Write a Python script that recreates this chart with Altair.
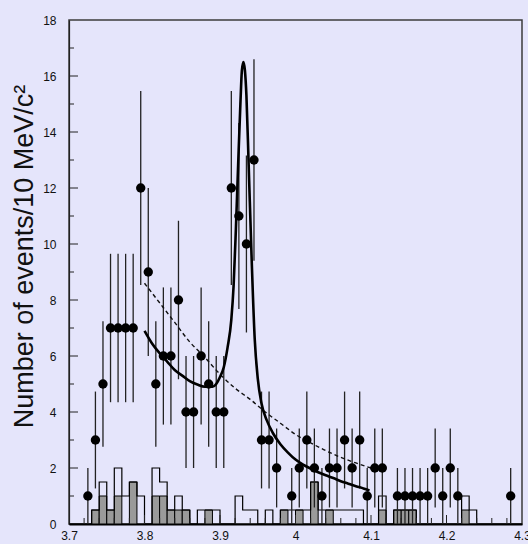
import altair as alt
import pandas as pd

# ---------------- data ----------------
pt_x = [3.725, 3.735, 3.745, 3.755, 3.765, 3.775, 3.785, 3.795, 3.805, 3.815,
        3.825, 3.835, 3.845, 3.855, 3.865, 3.875, 3.885, 3.895, 3.905, 3.915,
        3.925, 3.935, 3.945, 3.955, 3.965, 3.975, 3.995, 4.005, 4.015, 4.025,
        4.035, 4.045, 4.055, 4.065, 4.075, 4.085, 4.095, 4.105, 4.115, 4.135,
        4.145, 4.155, 4.165, 4.175, 4.185, 4.195, 4.205, 4.215, 4.285]
pt_y = [1, 3, 5, 7, 7, 7, 7, 12, 9, 5,
        6, 6, 8, 4, 4, 6, 5, 4, 4, 12,
        11, 10, 13, 3, 3, 2, 1, 2, 3, 2,
        1, 2, 2, 3, 2, 3, 1, 2, 2, 1,
        1, 1, 1, 1, 2, 1, 2, 1, 1]
pt_err = [1.0, 1.73, 2.24, 2.65, 2.65, 2.65, 2.65, 3.46, 3.0, 2.24,
          2.45, 2.45, 2.83, 2.0, 2.0, 2.45, 2.24, 2.0, 2.0, 3.46,
          3.32, 3.16, 3.6, 1.73, 1.73, 1.41, 1.0, 1.41, 1.73, 1.41,
          1.0, 1.41, 1.41, 1.73, 1.41, 1.73, 1.0, 1.41, 1.41, 1.0,
          1.0, 1.0, 1.0, 1.0, 1.41, 1.0, 1.41, 1.0, 1.0]

fit_x = [3.800, 3.810, 3.820, 3.830, 3.840, 3.850, 3.860, 3.870, 3.880, 3.890,
         3.895, 3.900, 3.905, 3.910, 3.915, 3.918, 3.921, 3.924, 3.927, 3.929,
         3.931, 3.933, 3.935, 3.938, 3.942, 3.946, 3.950, 3.955, 3.962, 3.970,
         3.980, 3.990, 4.000, 4.010, 4.020, 4.030, 4.040, 4.050, 4.060, 4.070,
         4.080, 4.090, 4.098]
fit_y = [6.9, 6.45, 6.1, 5.8, 5.5, 5.3, 5.1, 4.98, 4.9, 4.9,
         5.0, 5.25, 5.6, 6.3, 7.3, 8.5, 10.5, 12.8, 15.0, 16.2,
         16.5, 16.2, 15.3, 12.8, 9.4, 6.6, 5.2, 4.3, 3.7, 3.25,
         2.85, 2.55, 2.3, 2.12, 1.98, 1.85, 1.74, 1.64, 1.53, 1.44,
         1.35, 1.27, 1.2]

bkg_x = [3.80, 3.82, 3.84, 3.86, 3.88, 3.90, 3.92, 3.94, 3.96, 3.98,
         4.00, 4.02, 4.04, 4.06, 4.08, 4.10]
bkg_y = [8.6, 7.9, 7.2, 6.5, 5.95, 5.35, 4.85, 4.45, 4.0, 3.6,
         3.2, 2.9, 2.62, 2.38, 2.18, 2.0]

# open histogram: left bin edges 3.70 ... 4.29 (10 MeV bins), last edge 4.30
hist_edge = [3.70, 3.71, 3.72, 3.73, 3.74, 3.75, 3.76, 3.77, 3.78, 3.79,
             3.80, 3.81, 3.82, 3.83, 3.84, 3.85, 3.86, 3.87, 3.88, 3.89,
             3.90, 3.91, 3.92, 3.93, 3.94, 3.95, 3.96, 3.97, 3.98, 3.99,
             4.00, 4.01, 4.02, 4.03, 4.04, 4.05, 4.06, 4.07, 4.08, 4.09,
             4.10, 4.11, 4.12, 4.13, 4.14, 4.15, 4.16, 4.17, 4.18, 4.19,
             4.20, 4.21, 4.22, 4.23, 4.24, 4.25, 4.26, 4.27, 4.28, 4.29, 4.30]
open_h = [0, 0, 0, 0.5, 1.5, 0.5, 2.0, 1.0, 1.5, 1.0,
          0, 2.0, 1.5, 0.5, 1.0, 0.5, 0, 0.5, 0.5, 0.5,
          0, 0, 1.0, 0.5, 0.5, 0, 0.5, 0, 0.5, 0.5,
          0.5, 0.5, 1.5, 0.5, 0.5, 0.5, 0.5, 0.5, 0.5, 0,
          0, 1.0, 0, 0.5, 0.5, 0.5, 0, 0, 0, 0,
          0, 0, 1.0, 0.5, 0, 0, 0, 0, 0, 0, 0]

grey_lo = [3.73, 3.74, 3.75, 3.76, 3.78, 3.81, 3.82, 3.83, 3.84, 3.85,
           3.88, 3.98, 4.00, 4.02, 4.04, 4.11, 4.13, 4.14, 4.15, 4.22]
grey_hi = [3.74, 3.75, 3.76, 3.77, 3.79, 3.82, 3.83, 3.84, 3.85, 3.86,
           3.89, 3.99, 4.01, 4.03, 4.05, 4.12, 4.14, 4.15, 4.16, 4.23]
grey_h = [0.5, 1.0, 0.5, 1.0, 1.5, 1.0, 1.0, 0.5, 0.5, 0.5,
          0.5, 0.5, 0.5, 1.5, 0.5, 0.5, 0.5, 0.5, 0.5, 0.5]

x_labels = [3.7, 3.8, 3.9, 4.0, 4.1, 4.2, 4.3]
x_minor = [3.72, 3.74, 3.76, 3.78, 3.82, 3.84, 3.86, 3.88, 3.92, 3.94, 3.96,
           3.98, 4.02, 4.04, 4.06, 4.08, 4.12, 4.14, 4.16, 4.18, 4.22, 4.24,
           4.26, 4.28]
x_major = [3.8, 3.9, 4.0, 4.1, 4.2]
y_labels = [0, 2, 4, 6, 8, 10, 12, 14, 16, 18]
y_major = [2, 4, 6, 8, 10, 12, 14, 16]
y_minor = [1, 3, 5, 7, 9, 11, 13, 15, 17]

# ---------------- tables ----------------
pts = pd.DataFrame({"x": pt_x, "y": pt_y, "e": pt_err})
pts["lo"] = (pts["y"] - pts["e"]).clip(lower=0)
pts["hi"] = pts["y"] + pts["e"]
fit = pd.DataFrame({"x": fit_x, "y": fit_y})
bkg = pd.DataFrame({"x": bkg_x, "y": bkg_y})
hist = pd.DataFrame({"x": hist_edge, "y": open_h})
grey = pd.DataFrame({"a": grey_lo, "b": grey_hi, "h": grey_h})

FONT = "Liberation Sans"
xs = alt.Scale(domain=[3.7, 4.3], nice=False, zero=False)
ys = alt.Scale(domain=[0, 18], nice=False)

X = alt.X("x:Q", scale=xs, axis=alt.Axis(
    values=x_labels, format="~g", title=None, grid=False, ticks=False,
    labelPadding=6, labelFontSize=12, labelFont=FONT, labelColor="#111",
    domainColor="#000", domainWidth=2, labelFlush=False))
Y = alt.Y("y:Q", scale=ys, axis=alt.Axis(
    values=y_labels, format="d", grid=False, ticks=False,
    labelPadding=13, labelFontSize=12, labelFont=FONT, labelColor="#111",
    domainColor="#222", domainWidth=1.2,
    title="Number of events/10 MeV/c\u00b2", titleFont=FONT,
    titleFontSize=27, titleFontWeight="normal", titleColor="#111",
    titleAngle=270, titleAlign="center", titleBaseline="alphabetic",
    titleX=-37, titleY=236))

grey_layer = alt.Chart(grey).mark_rect(
    fill="#9a9a9a", stroke="#000", strokeWidth=1
).encode(x=alt.X("a:Q", scale=xs), x2="b:Q",
         y=alt.Y("h:Q", scale=ys), y2=alt.datum(0))

open_layer = alt.Chart(hist).mark_line(
    interpolate="step-after", color="#000", strokeWidth=1.2
).encode(x=alt.X("x:Q", scale=xs), y=alt.Y("y:Q", scale=ys))

xmin_layer = alt.Chart(pd.DataFrame({"t": x_minor})).mark_rule(
    color="#222", strokeWidth=1
).encode(x=alt.X("t:Q", scale=xs), y=alt.value(504), y2=alt.value(498))
xmaj_layer = alt.Chart(pd.DataFrame({"t": x_major})).mark_rule(
    color="#222", strokeWidth=1
).encode(x=alt.X("t:Q", scale=xs), y=alt.value(504), y2=alt.value(495))
ymin_layer = alt.Chart(pd.DataFrame({"t": y_minor})).mark_rule(
    color="#222", strokeWidth=1
).encode(y=alt.Y("t:Q", scale=ys), x=alt.value(0), x2=alt.value(5))
ymaj_layer = alt.Chart(pd.DataFrame({"t": y_major})).mark_rule(
    color="#222", strokeWidth=1
).encode(y=alt.Y("t:Q", scale=ys), x=alt.value(0), x2=alt.value(9))

err_layer = alt.Chart(pts).mark_rule(color="#222", strokeWidth=1.3).encode(
    x=alt.X("x:Q", scale=xs), y=alt.Y("lo:Q", scale=ys), y2="hi:Q")

pt_layer = alt.Chart(pts).mark_circle(size=88, color="#000", opacity=1).encode(
    x=X, y=Y)

fit_layer = alt.Chart(fit).mark_line(
    color="#000", strokeWidth=2.6, interpolate="monotone"
).encode(x=alt.X("x:Q", scale=xs), y=alt.Y("y:Q", scale=ys))

bkg_layer = alt.Chart(bkg).mark_line(
    color="#111", strokeWidth=1.4, strokeDash=[4, 3], interpolate="monotone"
).encode(x=alt.X("x:Q", scale=xs), y=alt.Y("y:Q", scale=ys))

chart = alt.layer(
    grey_layer, open_layer, xmin_layer, xmaj_layer, ymin_layer, ymaj_layer,
    err_layer, bkg_layer, fit_layer, pt_layer
).properties(
    width=453, height=504,
    padding={"left": 69, "top": 20, "right": 6, "bottom": 20},
    autosize="none",
    background="#E5E5FB",
).configure_view(
    stroke="#3c3c3c", strokeWidth=1.5, fill="#E5E5FB"
)

chart.save("out.html", embed_options={"renderer": "svg", "actions": False})
